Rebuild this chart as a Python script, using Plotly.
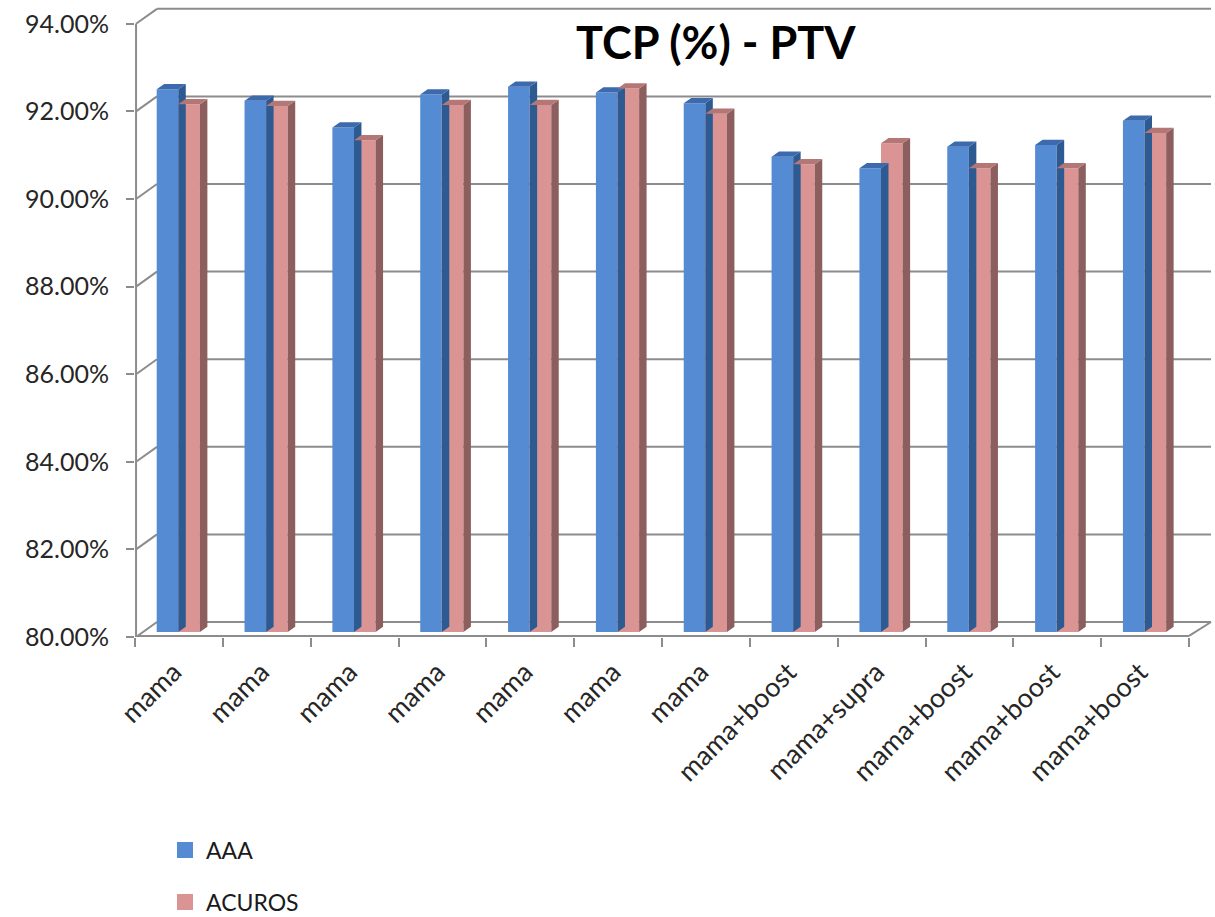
import plotly.graph_objects as go

# ---- data ----
categories = ["mama", "mama", "mama", "mama", "mama", "mama", "mama",
              "mama+boost", "mama+supra", "mama+boost", "mama+boost", "mama+boost"]
aaa = [92.39, 92.13, 91.52, 92.27, 92.45, 92.32, 92.07, 90.85, 90.59, 91.08, 91.12, 91.67]
acuros = [92.05, 92.01, 91.23, 92.03, 92.03, 92.41, 91.83, 90.68, 91.16, 90.59, 90.59, 91.39]
y_ticks = [80, 82, 84, 86, 88, 90, 92, 94]
y_ticktext = ["80.00%", "82.00%", "84.00%", "86.00%", "88.00%", "90.00%", "92.00%", "94.00%"]

# ---- 3D-look geometry (in axis units) ----
YMIN = 80.0
DEPTH_X, DEPTH_Y = 0.25, 0.342          # floor depth offset
BAR_DX, BAR_DY = 0.085, 0.12            # bar depth
BASE = YMIN + DEPTH_Y / 3               # bar front bottom
BAR_W = 0.246
OFFS = [0.247, 0.493]                   # left edges of the two bars within a category

FONT = "Lato, 'Open Sans', sans-serif"
GRID = "#8c8c8c"

PLOT_TOP, PLOT_BOTTOM, PLOT_LEFT = 4, 637, 135
PLOT_H = PLOT_BOTTOM - PLOT_TOP

def py(pix):  # pixel row -> paper y
    return (PLOT_BOTTOM - pix) / PLOT_H

def px(pix):  # pixel column -> paper x
    return (pix - PLOT_LEFT) / 1080

series = [
    ("AAA", aaa, "#558BD3", "#3C6AAD", "#2E5A92"),
    ("ACUROS", acuros, "#D99493", "#B47776", "#8C5F5E"),
]

fig = go.Figure()
n = len(categories)

# back wall gridlines + left connectors
for v in y_ticks:
    fig.add_shape(type="line", x0=DEPTH_X, x1=n + DEPTH_X, y0=v + DEPTH_Y, y1=v + DEPTH_Y,
                  line=dict(color=GRID, width=2), layer="below")
    fig.add_shape(type="line", x0=0.012, x1=DEPTH_X, y0=v, y1=v + DEPTH_Y,
                  line=dict(color=GRID, width=2), layer="below")
# floor edges
fig.add_shape(type="line", x0=0, x1=n, y0=YMIN + 0.025, y1=YMIN + 0.025,
              line=dict(color=GRID, width=2), layer="below")
fig.add_shape(type="line", x0=n, x1=n + DEPTH_X, y0=YMIN + 0.025, y1=YMIN + DEPTH_Y,
              line=dict(color=GRID, width=2), layer="below")
# front vertical axis
fig.add_shape(type="line", x0=0.012, x1=0.012, y0=YMIN, y1=y_ticks[-1],
              line=dict(color=GRID, width=2), layer="below")

for si, (name, vals, c_front, c_top, c_side) in enumerate(series):
    side_x, side_y, top_x, top_y = [], [], [], []
    for i, v in enumerate(vals):
        xl = i + OFFS[si]
        xr = xl + BAR_W
        yt = v + DEPTH_Y / 3
        side_x += [xr, xr, xr + BAR_DX, xr + BAR_DX, xr, None]
        side_y += [BASE, yt, yt + BAR_DY, BASE + BAR_DY, BASE, None]
        top_x += [xl, xr, xr + BAR_DX, xl + BAR_DX, xl, None]
        top_y += [yt, yt, yt + BAR_DY, yt + BAR_DY, yt, None]
    fig.add_trace(go.Scatter(x=side_x, y=side_y, mode="lines", fill="toself",
                             fillcolor=c_side, line=dict(width=0, color=c_side),
                             hoverinfo="skip", showlegend=False))
    fig.add_trace(go.Scatter(x=top_x, y=top_y, mode="lines", fill="toself",
                             fillcolor=c_top, line=dict(width=0, color=c_top),
                             hoverinfo="skip", showlegend=False))
    fig.add_trace(go.Bar(x=[i + OFFS[si] + BAR_W / 2 for i in range(n)],
                         y=[v - BASE + DEPTH_Y / 3 for v in vals], base=BASE,
                         width=BAR_W, marker=dict(color=c_front, line=dict(width=0)),
                         name=name, showlegend=False,
                         customdata=[f"{v:.2f}%" for v in vals],
                         hovertemplate="%{customdata}<extra>" + name + "</extra>"))

# manual legend (kept inside the figure so it does not push margins)
legend_rows = [850, 902]
for (name, vals, c_front, c_top, c_side), row in zip(series, legend_rows):
    fig.add_shape(type="rect", xref="paper", yref="paper",
                  x0=px(177), x1=px(193), y0=py(row + 8), y1=py(row - 8),
                  fillcolor=c_front, line=dict(width=0))
    fig.add_annotation(text=name, xref="paper", yref="paper", x=px(204), y=py(row),
                       xanchor="left", yanchor="middle", showarrow=False,
                       font=dict(family=FONT, size=23, color="#1a1a1a"))

fig.add_annotation(text="<b>TCP (%) - PTV</b>", xref="paper", yref="paper",
                   x=px(716), y=py(42), xanchor="center", yanchor="middle", showarrow=False,
                   font=dict(family=FONT, size=45, color="#000000"))

fig.update_layout(
    width=1215, height=917,
    margin=dict(l=PLOT_LEFT, r=0, t=PLOT_TOP, b=917 - PLOT_BOTTOM, autoexpand=False),
    plot_bgcolor="white", paper_bgcolor="white",
    barmode="overlay", showlegend=False,
    xaxis=dict(range=[0, 12.295], tickvals=[i + 0.44 for i in range(n)], ticktext=categories,
               tickangle=-45, ticks="", showgrid=False, zeroline=False, showline=False,
               automargin=False, ticklabelstandoff=13,
               tickfont=dict(family=FONT, size=27, color="#262626"),
               minor=dict(tickmode="array", tickvals=list(range(n + 1)), ticks="outside",
                          ticklen=9, tickwidth=2, tickcolor=GRID, showgrid=False)),
    yaxis=dict(range=[YMIN, YMIN + PLOT_H / 43.8], tickvals=y_ticks, ticktext=y_ticktext,
               ticks="outside", ticklen=8, tickwidth=2, tickcolor=GRID,
               showgrid=False, zeroline=False, showline=False, automargin=False,
               ticklabelstandoff=12,
               tickfont=dict(family=FONT, size=25, color="#262626")),
)

fig.write_html("out.html")
